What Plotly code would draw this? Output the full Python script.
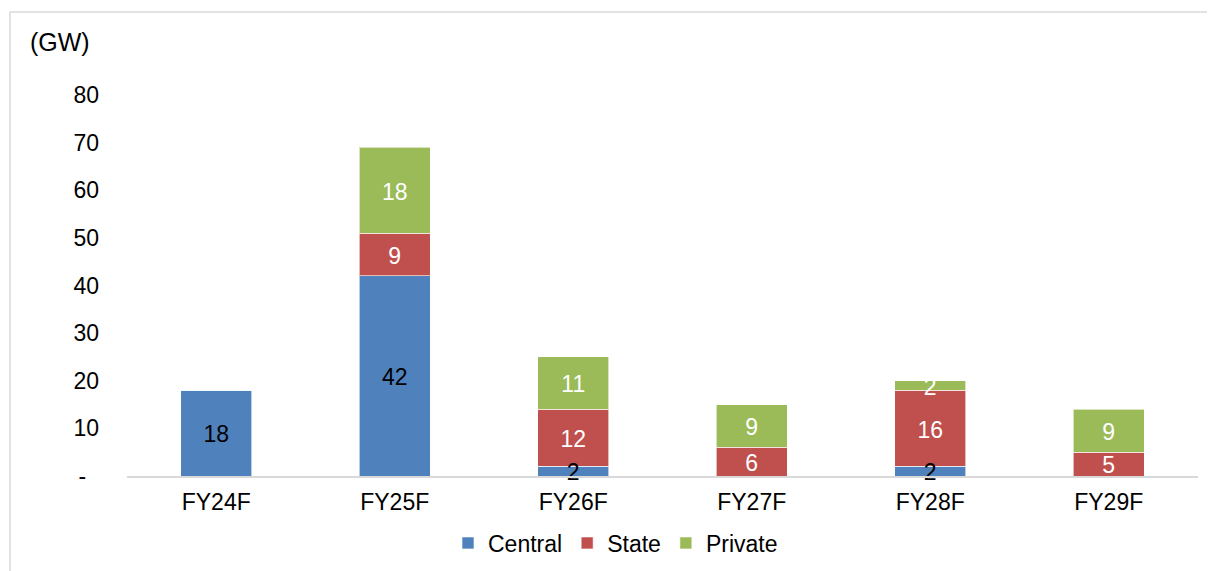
import plotly.graph_objects as go

categories = ["FY24F", "FY25F", "FY26F", "FY27F", "FY28F", "FY29F"]
central = [18, 42, 2, 0, 2, 0]
state = [0, 9, 12, 6, 16, 5]
private = [0, 18, 11, 9, 2, 9]
y_ticks = [0, 10, 20, 30, 40, 50, 60, 70, 80]
y_tick_labels = ["-\u00a0\u00a0", "10", "20", "30", "40", "50", "60", "70", "80"]

FONT = "Liberation Sans, Arial, sans-serif"
FS = 23
OFF = 8  # default page body margin
W, H = 1215 - OFF, 571 - OFF
# page-coordinate targets
PL, PR, PT, PB = 127, 1198, 95, 476
ML, MT = PL - OFF, PT - OFF
MR, MB = W - (PR - OFF), H - (PB - OFF)
PW = PR - PL
PH = PB - PT
Y_MAX = 80
LABEL_DROP = 3.5 * Y_MAX / PH  # small downward nudge of labels (3.5 px)


def px(xp):
    return (xp - PL) / PW


def py(yp):
    return (PB - yp) / PH


def labels(vals):
    return [str(v) if v else "" for v in vals]


series = [
    ("Central", central, "#4F81BD", "black"),
    ("State", state, "#C0504D", "white"),
    ("Private", private, "#9BBB59", "white"),
]

fig = go.Figure()
base = [0] * len(categories)
label_traces = []
for name, vals, color, tcol in series:
    fig.add_trace(go.Bar(
        x=categories, y=vals, name=name,
        marker=dict(color=color, line=dict(color="rgba(255,255,255,0.6)", width=1)),
        hoverinfo="x+y+name",
    ))
    mids = [b + v / 2 - LABEL_DROP for b, v in zip(base, vals)]
    label_traces.append(go.Scatter(
        x=categories, y=mids, mode="text", text=labels(vals),
        textposition="middle center", cliponaxis=False,
        textfont=dict(family=FONT, size=FS, color=tcol),
        showlegend=False, hoverinfo="skip",
    ))
    base = [b + v for b, v in zip(base, vals)]

for t in label_traces:
    fig.add_trace(t)

fig.update_layout(
    barmode="stack",
    bargap=0.6,
    width=W, height=H,
    margin=dict(l=ML, r=MR, t=MT, b=MB, autoexpand=False),
    paper_bgcolor="white", plot_bgcolor="white",
    font=dict(family=FONT, size=FS, color="black"),
    showlegend=True,
    legend=dict(
        orientation="h", x=px(448), xanchor="left",
        y=py(543), yanchor="middle",
        font=dict(family=FONT, size=FS, color="black"),
        itemwidth=30, traceorder="normal", itemclick=False,
    ),
    xaxis=dict(
        showline=True, linecolor="#D9D9D9", linewidth=2,
        ticks="", showgrid=False, tickfont=dict(size=FS),
        ticklabelstandoff=4,
    ),
    yaxis=dict(
        range=[0, Y_MAX], tickvals=y_ticks, ticktext=y_tick_labels,
        showgrid=False, showline=False, zeroline=False, ticks="",
        tickfont=dict(size=FS), ticklabelstandoff=27,
    ),
    annotations=[dict(
        text="(GW)", xref="paper", yref="paper",
        x=px(28), xanchor="left",
        y=py(42), yanchor="middle",
        showarrow=False, font=dict(family=FONT, size=25, color="black"),
    )],
    shapes=[dict(
        type="rect", xref="paper", yref="paper",
        x0=px(10), x1=px(1214),
        y0=py(600), y1=py(12),
        line=dict(color="#D9D9D9", width=1.5), fillcolor="rgba(0,0,0,0)",
        layer="below",
    )],
)

fig.write_html("out.html")
